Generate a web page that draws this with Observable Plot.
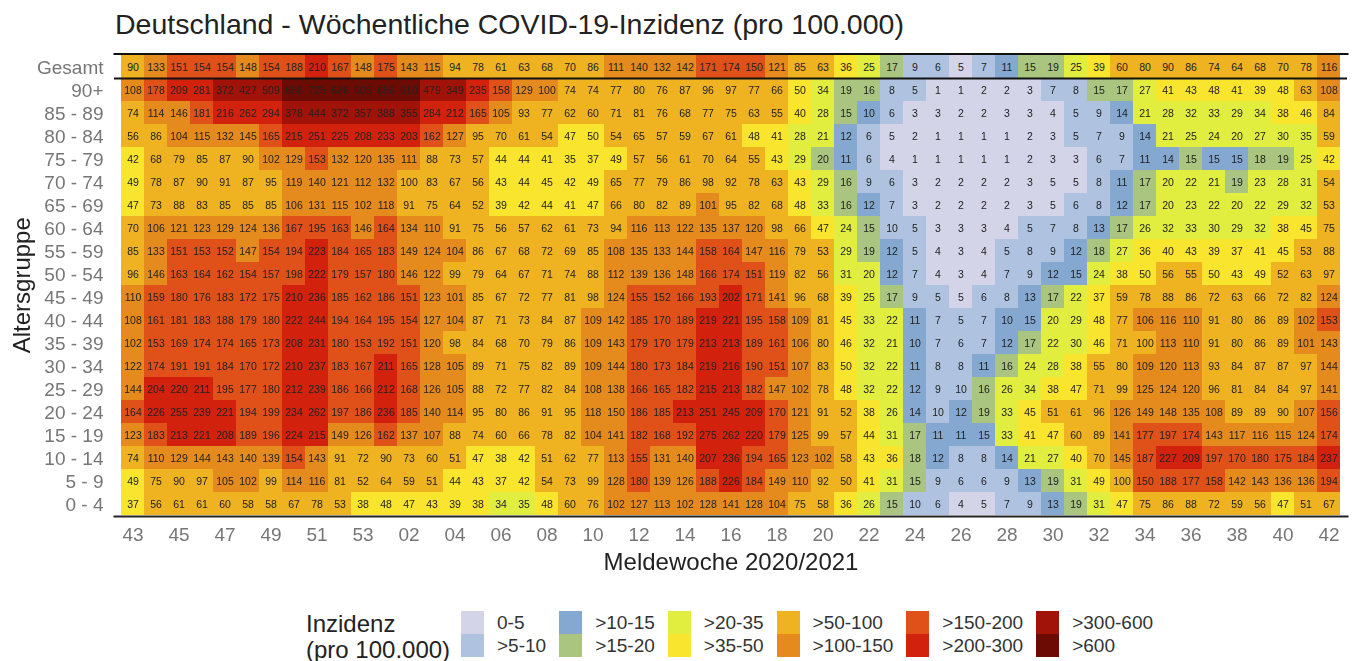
<!DOCTYPE html>
<html lang="de">
<head>
<meta charset="utf-8">
<script src="https://cdn.jsdelivr.net/npm/d3@7"></script>
<script src="https://cdn.jsdelivr.net/npm/@observablehq/plot@0.6"></script>
<style>
  html, body { margin: 0; padding: 0; background: #fff; overflow: hidden; }
  body { width: 1360px; height: 661px; font-family: "Liberation Sans", Arial, sans-serif; }
  #title { height: 40px; box-sizing: border-box; padding: 9px 0 0 115px; font-size: 28.5px; line-height: 30px; color: #222; white-space: nowrap; }
  #chart svg { display: block; filter: blur(0.35px); }
  #chart [aria-label="x-axis label"], #chart [aria-label="y-axis label"] { font-size: 24px; fill: #222; }
  #legend { display: flex; align-items: flex-start; margin-left: 306px; margin-top: 31px; color: #333; }
  #legend .lt { font-size: 24px; line-height: 26px; margin-right: 10px; color: #222; width: 145px; white-space: nowrap; }
  #legend .col { display: flex; margin-right: 13px; }
  #legend .sw { width: 23px; }
  #legend .sw div { height: 23px; }
  #legend .lb { margin-left: 13px; font-size: 19px; }
  #legend .lb div { height: 23px; line-height: 23px; white-space: nowrap; }
</style>
</head>
<body>
<div id="title">Deutschland - Wöchentliche COVID-19-Inzidenz (pro 100.000)</div>
<div id="chart"></div>
<div id="legend"></div>
<script>
const weeks = ["43","44","45","46","47","48","49","50","51","52","53","01","02","03","04","05","06","07","08","09","10","11","12","13","14","15","16","17","18","19","20","21","22","23","24","25","26","27","28","29","30","31","32","33","34","35","36","37","38","39","40","41","42"];
const weekTicks = ["43","45","47","49","51","53","02","04","06","08","10","12","14","16","18","20","22","24","26","28","30","32","34","36","38","40","42"];
const ageGroups = ["Gesamt","90+","85 - 89","80 - 84","75 - 79","70 - 74","65 - 69","60 - 64","55 - 59","50 - 54","45 - 49","40 - 44","35 - 39","30 - 34","25 - 29","20 - 24","15 - 19","10 - 14","5 - 9","0 - 4"];

// Values with a fraction sit just above a class limit: shown rounded, coloured as in the source.
const gesamt = [90,133,151,154,154,148,154,188,210,167,148,175,143,115,94,78,61,63,68,70,86,111,140,132,142,171,174,150.4,121,85,63,36,25,17,9,6,5,7,11,15.4,19,25,39,60,80,90,86,74,64,68,70,78,116];
const a90 = [108,178,209,281,372,427,509,656,725,636,605,656,610,479,349,235,158,129,100.4,74,74,77,80,76,87,96,97,77,66,50,34,19,16,8,5.4,1,1,2,2,3,7,8,15.4,17,27,41,43,48,41,39,48,63,108];
const a85 = [74,114,146,181,216,262,294,378,444,372,357,388,355,284,212,165,105,93,77,62,60,71,81,76,68,77,75,63,55,40,28,15.4,10.4,6,3,3,2,2,3,3,4,5.4,9,14,21,28,32,33,29,34,38,46,84];
const a80 = [56,86,104,115,132,145,165,215,251,225,208,233,203,162,127,95,70,61,54,47,50,54,65,57,59,67,61,48,41,28,21,12,6,5,2,1,1,1,1,2,3,5.4,7,9,14,21,25,24,20.4,27,30,35,59];
const a75 = [42,68,79,85,87,90,102,129,153,132,120,135,111,88,73,57,44,44,41,35.4,37,49,57,56,61,70,64,55,43,29,20,11,6,4,1,1,1,1,1,2,3,3,6,7,11,14,15.4,15,15,18,19,25,42];
const a70 = [49,78,87,90,91,87,95,119,140,121,112,132,100,83,67,56,43,44,45,42,49,65,77,79,86,98,92,78,63,43,29,16,9,6,3,2,2,2,2,3,5,5,8,11,17,20.4,22,21,19,23,28,31,54];
const a65 = [47,73,88,83,85,85,85,106,131,115,102,118,91,75,64,52,39,42,44,41,47,66,80,82,89,101,95,82,68,48,33,16,12,7,3,2,2,2,2,3,5,6,8,12,17,20.4,23,22,20.4,22,29,32,53];
const a60 = [70,106,121,123,129,124,136,167,195,163,146,164,134,110,91,75,56,57,62,61,73,94,116,113,122,135,137,120,98,66,47,24,15.4,10,5.4,3,3,3,4,5.4,7,8,13,17,26,32,33,30,29,32,38,45,75];
const a55 = [85,133,151,153,152,147,154,194,223,184,165,183,149,124,104,86,67,68,72,69,85,108,135,133,144,158,164,147,116,79,53,29,19,12,5.4,4,3,4,5.4,8,9,12,18,27,36,40,43,39,37,41,45,53,88];
const a50 = [96,146,163,164,162,154,157,198,222,179,157,180,146,122,99,79,64,67,71,74,88,112,139,136,148,166,174,151,119,82,56,31,20.4,12,7,4,3,4,7,9,12,15,24,38,50,56,55,50,43,49,52,63,97];
const a45 = [110,159,180,176,183,172,175,210,236,185,162,186,151,123,101,85,67,72,77,81,98,124,155,152,166,193,202,171,141,96,68,39,25,17,9,5.4,5,6,8,13,17,22,37,59,78,88,86,72,63,66,72,82,124];
const a40 = [108,161,181,183,188,179,180,222,244,194,164,195,154,127,104,87,71,73,84,87,109,142,185,170,189,219,221,195,158,109,81,45,33,22,11,7,5.4,7,10.4,15,20.4,29,48,77,106,116,110,91,80,86,89,102,153];
const a35 = [102,153,169,174,174,165,173,208,231,180,153,192,151,120,98,84,68,70,79,86,109,143,179,170,179,213,213,189,161,106,80,46,32,21,10.4,7,6,7,12,17,22,30,46,71,100,113,110,91,80,86,89,101,143];
const a30 = [122,174,191,191,184,170,172,210,237,183,167,211,165,128,105,89,71,75,82,89,109,144,180,173,184,219,216,190,151,107,83,50,32,22,11,8,8,11,16,24,28,38,55,80,109,120,113,93,84,87,87,97,144];
const a25 = [144,204,220,211,195,177,180,212,239,186,166,212,168,126,105,88,72,77,82,84,108,138,166,165,182,215,213,182,147,102,78,48,32,22,12,9,10,16,26,34,38,47,71,99,125,124,120,96,81,84,84,97,141];
const a20 = [164,226,255,239,221,194,199,234,262,197,186,236,185,140,114,95,80,86,91,95,118,150,186,185,213,251,245,209,170,121,91,52,38,26,14,10,12,19,33,45,51,61,96,126,149,148,135,108,89,89,90,107,156];
const a15 = [123,183,213,221,208,189,196,224,215,149,126,162,137,107,88,74,60,66,78,82,104,141,182,168,192,275,262,220,179,125,99,57,44,31,17,11,11,15,33,41,47,60,89,141,177,197,174,143,117,116,115,124,174];
const a10 = [74,110,129,144,143,140,139,154,143,91,72,90,73,60,51,47,38,42,51,62,77,113,155,131,140,207,236,194,165,123,102,58,43,36,18,12,8,8,14,21,27,40,70,145,187,227,209,197,170,180,175,184,237];
const a05 = [49,75,90,97,105,102,99,114,116,81,52,64,59,51,44,43,37,42,54,73,99,128,180,139,126,188,226,184,149,110,92,50.4,41,31,15.4,9,6,6,9,13,19,31,49,100,150.4,188,177,158,142,143,136,136,194];
const a00 = [37,56,61,61,60,58,58,67,78,53,38,48,47,43,39,38,34,35,48,60,76,102,127,113,102,128,141,128,104,75,58,36,26,15.4,10,6,4,5,7,9,13,19,31,47,75,86,88,72,59,56,47,51,67];
const rows = [gesamt,a90,a85,a80,a75,a70,a65,a60,a55,a50,a45,a40,a35,a30,a25,a20,a15,a10,a05,a00];

const classLabels = ["0-5",">5-10",">10-15",">15-20",">20-35",">35-50",">50-100",">100-150",">150-200",">200-300",">300-600",">600"];
const classLimits = [5,10,15,20,35,50,100,150,200,300,600];
const classColors = ["#d3d4e8","#afc3e0","#85a8d0","#a9c57f","#e2ee3f","#f9e42e","#efb322","#e58b1e","#e0511a","#d2220e","#a11308","#6c0b04"];

const classOf = v => {
  const k = classLimits.findIndex(t => v <= t);
  return classLabels[k < 0 ? classLimits.length : k];
};
const table = rows.flatMap((r, i) => r.map((v, j) => ({week: weeks[j], age: ageGroups[i], value: v, cls: classOf(v)})));

const W = 1360, H = 540, mTop = 13.5, mBottom = 64, mLeft = 114, mRight = 13;
const rowH = (H - mTop - mBottom) / ageGroups.length;

const chart = Plot.plot({
  width: W, height: H,
  marginTop: mTop, marginBottom: mBottom, marginLeft: mLeft, marginRight: mRight,
  style: {fontFamily: '"Liberation Sans", Arial, sans-serif', background: "transparent"},
  x: {domain: weeks, padding: 0},
  y: {domain: ageGroups, padding: 0},
  color: {type: "ordinal", domain: classLabels, range: classColors},
  marks: [
    Plot.cell(table, {x: "week", y: "age", fill: "cls"}),
    Plot.text(table, {x: "week", y: "age", text: d => String(Math.round(d.value)), fill: "#222", fontSize: 10.5, dy: 1}),
    Plot.frame({anchor: "top", stroke: "#111", strokeWidth: 2}),
    Plot.frame({anchor: "bottom", stroke: "#222", strokeWidth: 2}),
    Plot.ruleY(["Gesamt"], {dy: rowH / 2, stroke: "#111", strokeWidth: 2}),
    Plot.axisX({ticks: weekTicks, tickSize: 0, tickPadding: 11, fontSize: 19, color: "#767676", label: "Meldewoche 2020/2021", labelAnchor: "center", labelArrow: "none", labelOffset: 53}),
    Plot.axisY({tickSize: 0, tickPadding: 11, dy: 1, fontSize: 19, color: "#767676", label: "Altersgruppe", labelAnchor: "center", labelArrow: "none", labelOffset: 102})
  ]
});
document.getElementById("chart").append(chart);

const legend = document.getElementById("legend");
const lt = document.createElement("div");
lt.className = "lt";
lt.innerHTML = "Inzidenz<br>(pro 100.000)";
legend.append(lt);
for (let i = 0; i < classLabels.length; i += 2) {
  const col = document.createElement("div");
  col.className = "col";
  const sw = document.createElement("div");
  sw.className = "sw";
  const lb = document.createElement("div");
  lb.className = "lb";
  for (const k of [i, i + 1]) {
    const s = document.createElement("div");
    s.style.background = classColors[k];
    sw.append(s);
    const t = document.createElement("div");
    t.textContent = classLabels[k];
    lb.append(t);
  }
  col.append(sw, lb);
  legend.append(col);
}
</script>
</body>
</html>
